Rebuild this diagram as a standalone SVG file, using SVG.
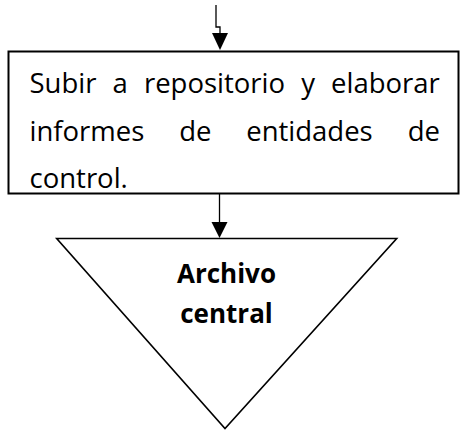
<svg xmlns="http://www.w3.org/2000/svg" width="460" height="438" viewBox="0 0 460 438">
<style>
.shape{fill:#fff;stroke:#000;stroke-width:2}
.conn{fill:none;stroke:#000;stroke-width:1.3}
.head{fill:#000;stroke:none}
.t{font-family:"Open Sans","Noto Sans",sans-serif;font-size:27.5px;fill:#000}
.b{font-family:"Open Sans","Noto Sans",sans-serif;font-size:26px;font-weight:bold;fill:#000}
</style>
<rect width="460" height="438" fill="#fff"/>
<g id="connectors">
<polyline class="conn" points="216,5 216,27 220,27 220,34"/>
<polygon class="head" points="212,33 228,33 220,50"/>
<line class="conn" x1="219.5" y1="194" x2="219.5" y2="223"/>
<polygon class="head" points="211.5,222 227.5,222 219.5,238"/>
</g>
<g id="process">
<rect class="shape" x="8.5" y="51.5" width="450" height="142"/>
<text class="t" y="93">
<tspan x="29.5">Subir</tspan><tspan x="112.5">a</tspan><tspan x="143.9">repositorio</tspan><tspan x="301.3">y</tspan><tspan x="331">elaborar</tspan>
</text>
<text class="t" y="141">
<tspan x="29.5">informes</tspan><tspan x="179.2">de</tspan><tspan x="246.2">entidades</tspan><tspan x="407.7">de</tspan>
</text>
<text class="t" x="29.5" y="188">control.</text>
</g>
<g id="archivo">
<polygon class="shape" style="stroke-width:1.6" points="56.7,238.5 396.7,238.5 225,428.5"/>
<text class="b" x="226.5" y="283" text-anchor="middle">Archivo</text>
<text class="b" x="226.5" y="322.5" text-anchor="middle">central</text>
</g>
</svg>
